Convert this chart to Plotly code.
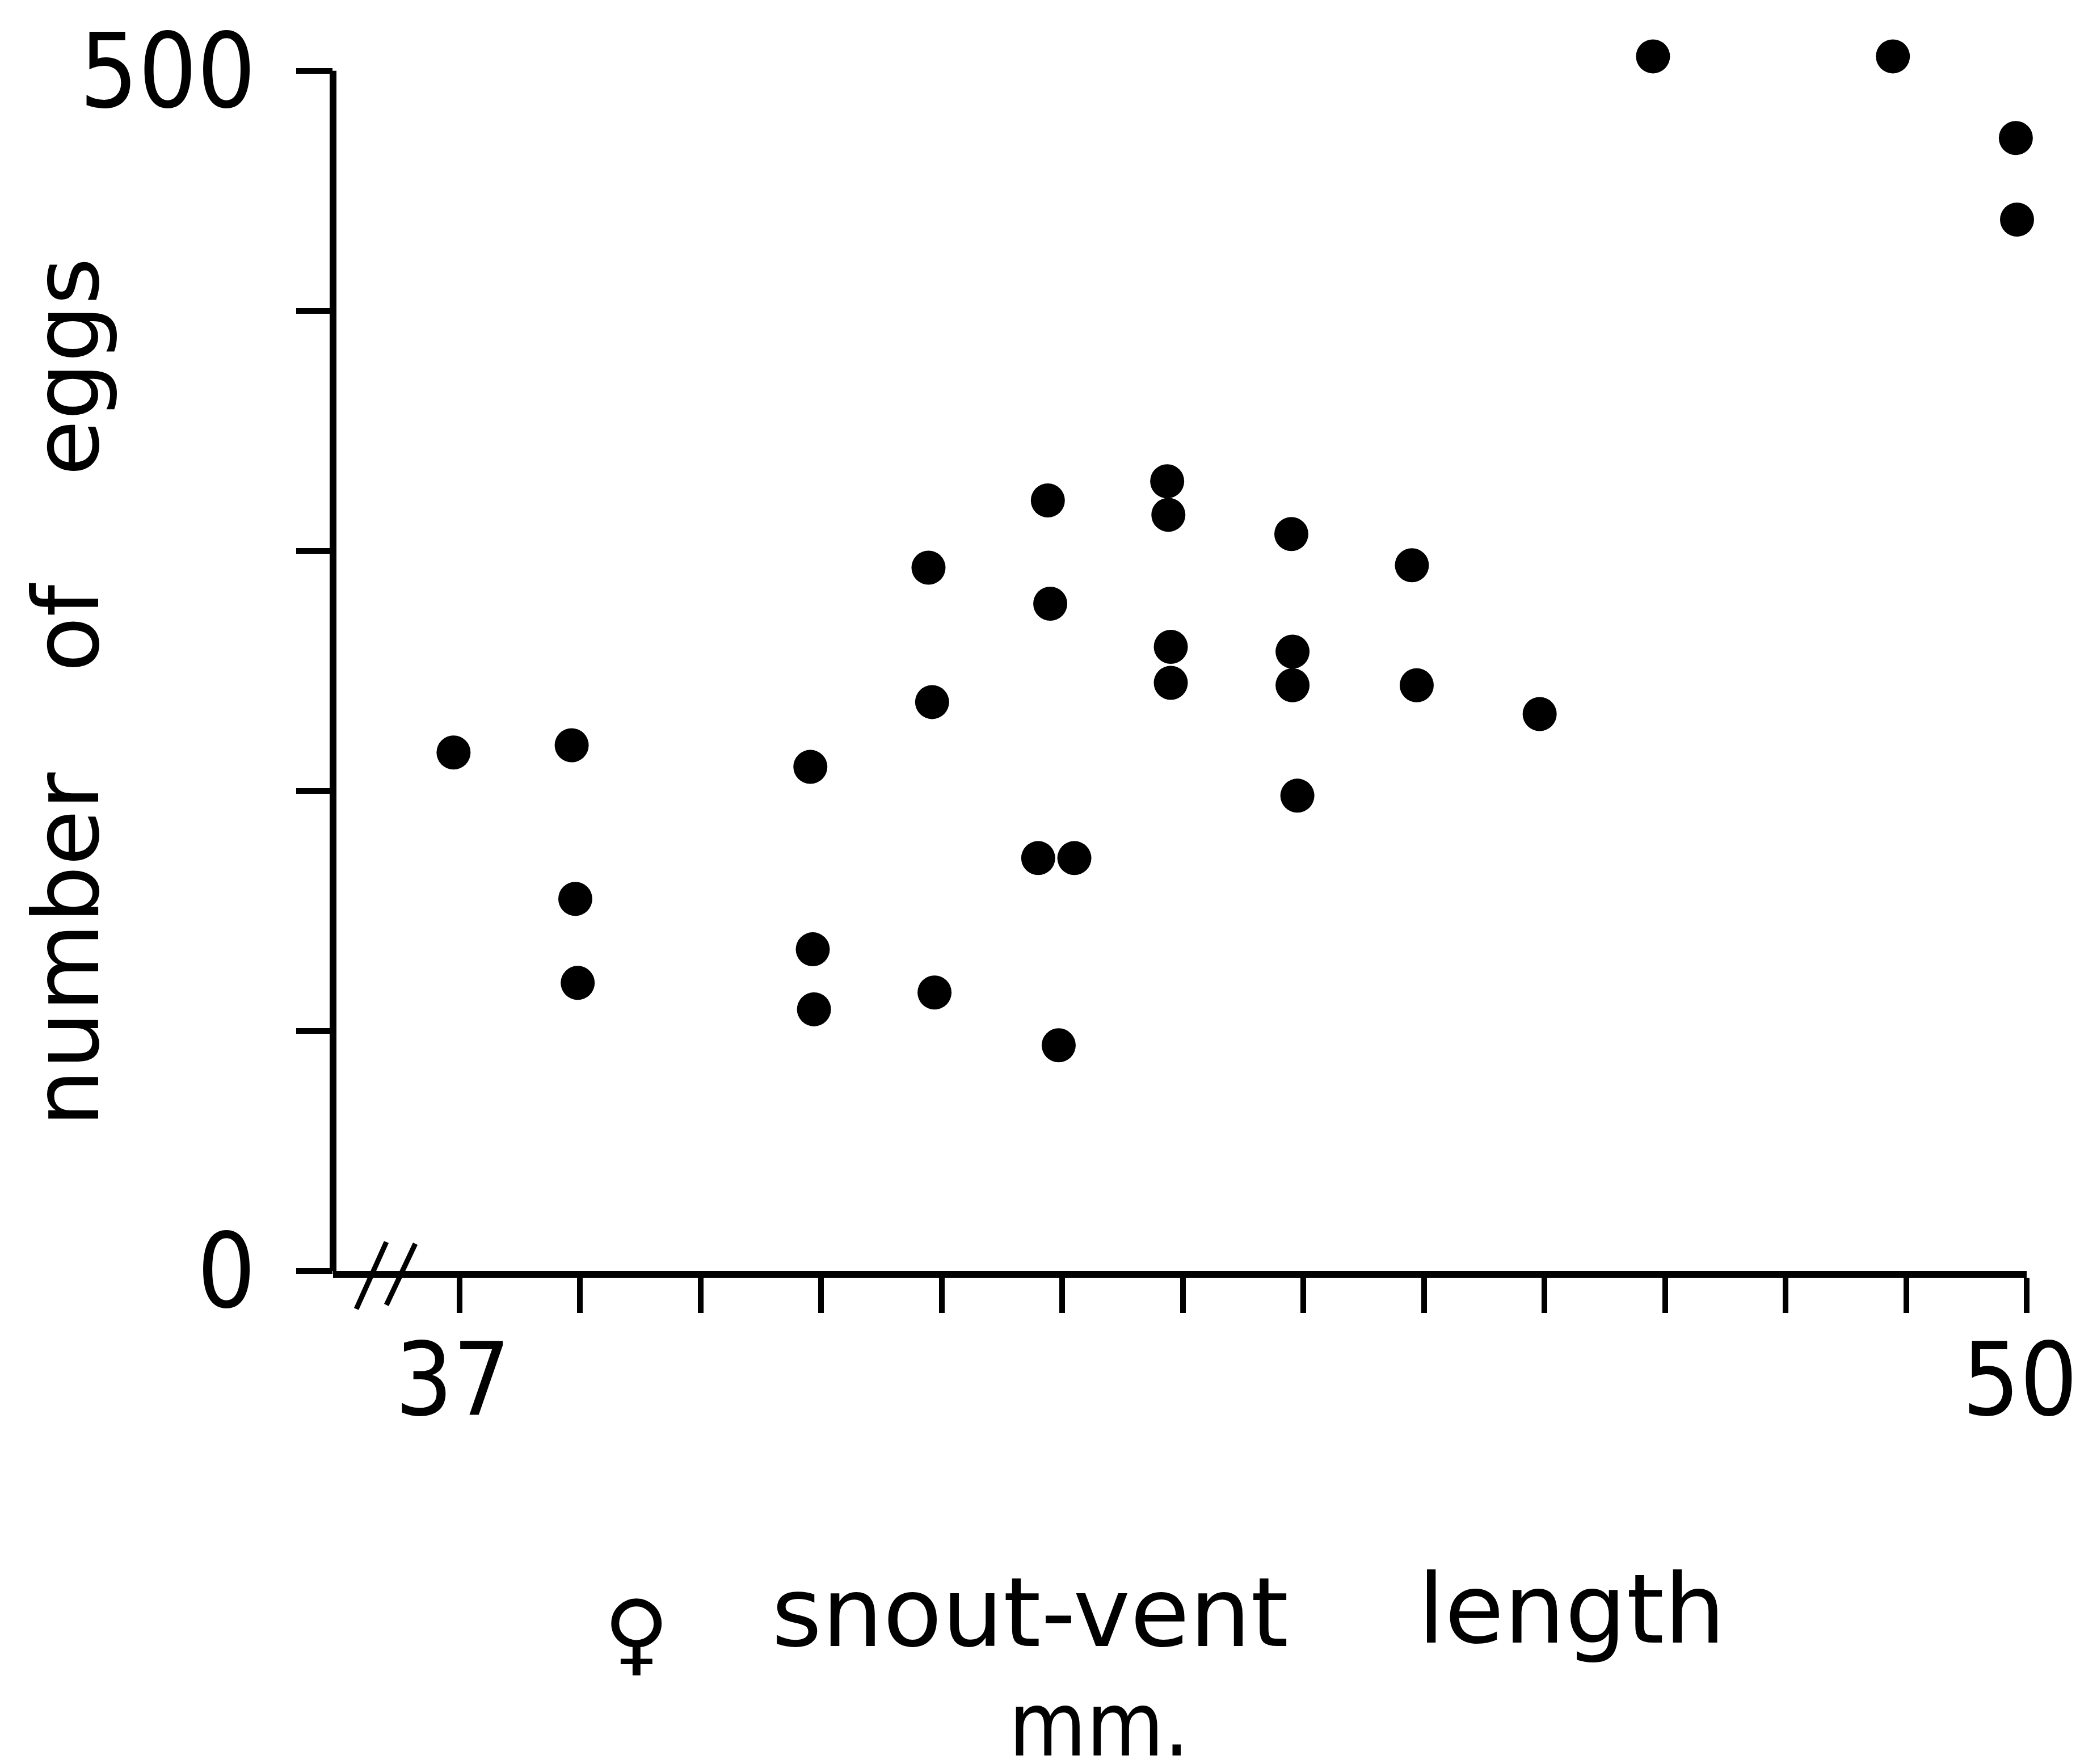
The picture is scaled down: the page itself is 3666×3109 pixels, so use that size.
import plotly.graph_objects as go

# ---- data ----
svl_mm = [36.95, 37.93, 37.96, 37.98, 39.91, 39.93, 39.94, 40.89, 40.92, 40.94,
          41.88, 41.90, 41.80, 42.10, 41.97, 42.87, 42.88, 42.90, 42.90, 43.90,
          43.91, 43.91, 43.95, 44.90, 44.94, 45.96, 46.90, 48.89, 49.91, 49.92]
n_eggs = [216, 219, 155, 120, 210, 134, 109, 293, 237, 116,
          321, 278, 172, 172, 94, 329, 315, 260, 245, 307,
          258, 244, 198, 294, 244, 232, 506, 506, 472, 438]

x_ticks = list(range(37, 51))
x_ticktext = ["37"] + [""] * 12 + ["50"]
y_ticks = [0, 100, 200, 300, 400, 500]
y_ticktext = ["0", "", "", "", "", "500"]

# ---- layout geometry (page pixels) ----
W, H = 3666, 3109
OFF = 8                      # default body margin of the html page
FW, FH = W - OFF, H - 2 * OFF
L, R, B = 587, 3572, 2240    # plot area: left, right, y=0 line (page coords)
Y500 = 125                   # pixel row of y=500
Y_TOP = 512                  # top of the y range (room for points above 500)
T = B - Y_TOP * (B - Y500) / 500.0
X_LEFT = 37 - (810 - L) / ((R - 810) / 13.0)

def px(x):
    return (x - L) / (R - L)

def py(y):
    return (B - y) / (B - T)

FONT_T = "DejaVu Sans Condensed, DejaVu Sans, sans-serif"
FONT_L = "DejaVu Sans, sans-serif"

fig = go.Figure()
fig.add_trace(go.Scatter(
    x=svl_mm, y=n_eggs, mode="markers",
    marker=dict(size=60, color="black", line=dict(width=0)),
    cliponaxis=False, showlegend=False,
))

annots = []
def ann(text, x, y, size, angle=0, family=FONT_L):
    annots.append(dict(text=text, x=px(x), y=py(y), xref="paper", yref="paper",
                       xanchor="center", yanchor="middle", showarrow=False,
                       textangle=angle, font=dict(family=family, size=size, color="black")))

ann("\u2640", 1122, 2878, 158)
ann("snout-vent", 1815, 2842, 170)
ann("length", 2770, 2836, 170)
ann("mm.", 1937, 3040, 156, family=FONT_T)
ann("number", 118, 1674, 160, -90)
ann("of", 118, 1106, 160, -90)
ann("eggs", 118, 647, 160, -90)

shapes = [
    # y axis line from 0 to 500
    dict(type="line", xref="paper", yref="y", x0=0, x1=0, y0=0, y1=500,
         line=dict(color="black", width=12)),
    # axis break marks
    dict(type="line", xref="paper", yref="paper", x0=px(628), y0=py(2307), x1=px(681), y1=py(2189),
         line=dict(color="black", width=9)),
    dict(type="line", xref="paper", yref="paper", x0=px(681), y0=py(2300), x1=px(732), y1=py(2192),
         line=dict(color="black", width=9)),
]

fig.update_layout(
    width=FW, height=FH,
    margin=dict(l=L - OFF, r=FW + OFF - R, t=T - OFF, b=FH + OFF - B, pad=0,
                autoexpand=False),
    paper_bgcolor="white", plot_bgcolor="white",
    annotations=annots, shapes=shapes,
    xaxis=dict(range=[X_LEFT, 50], tickvals=x_ticks, ticktext=x_ticktext,
               showline=True, linecolor="black", linewidth=12,
               ticks="outside", ticklen=62, tickwidth=10, tickcolor="black",
               showgrid=False, zeroline=False, ticklabelstandoff=-35,
               ticklabelshift=-12,
               ticklabeloverflow="allow", automargin=False,
               tickfont=dict(family=FONT_T, size=178, color="black")),
    yaxis=dict(range=[0, Y_TOP], tickvals=y_ticks, ticktext=y_ticktext,
               showline=False, automargin=False,
               ticks="outside", ticklen=64, tickwidth=10, tickcolor="black",
               showgrid=False, zeroline=False, ticklabelstandoff=35,
               ticklabeloverflow="allow",
               tickfont=dict(family=FONT_T, size=181, color="black")),
)

fig.write_html("out.html")
